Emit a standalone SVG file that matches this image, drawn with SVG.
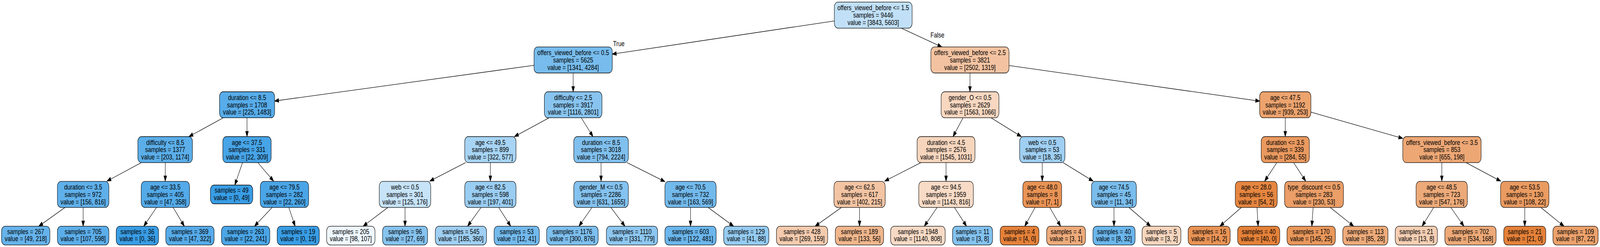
<svg xmlns="http://www.w3.org/2000/svg" width="5276" height="632" viewBox="0 0 5276 632" preserveAspectRatio="none">
<style>
svg:root{width:100vw;height:100vh;display:block}
.nd rect{stroke:#000;stroke-width:1.33}
text{font-family:"Liberation Sans",Arial,Helvetica,sans-serif;font-size:18.67px;fill:#000}
.nd text{text-anchor:middle}
.ed line{stroke:#000;stroke-width:1.33;fill:none;marker-end:url(#ah)}
</style>
<defs>
<marker id="ah" markerUnits="userSpaceOnUse" markerWidth="16" markerHeight="12" refX="0" refY="4.67" orient="auto" overflow="visible"><path d="M0,0 L13.33,4.67 L0,9.33 z" fill="#000" stroke="#000" stroke-width="1.33"/></marker>
</defs>
<rect x="0" y="0" width="5276" height="632" fill="#fff"/>
<g id="edges" class="ed">
<line x1="2751.3" y1="53.56" x2="2032.24" y2="136.92"/>
<line x1="2972.2" y1="72.03" x2="3093.2" y2="115.56"/>
<line x1="1761" y1="167.16" x2="918.8" y2="257"/>
<line x1="1890" y1="186.73" x2="1890" y2="221.44"/>
<line x1="3198.5" y1="186.73" x2="3198.5" y2="221.44"/>
<line x1="3327.25" y1="167.61" x2="4140.45" y2="257.32"/>
<line x1="736.2" y1="301.43" x2="635.37" y2="344.26"/>
<line x1="814.5" y1="301.43" x2="814.5" y2="336.14"/>
<line x1="1810.67" y1="301.43" x2="1708.62" y2="344.31"/>
<line x1="1916.73" y1="301.43" x2="1946.93" y2="339.07"/>
<line x1="3175.71" y1="301.43" x2="3150.16" y2="338.5"/>
<line x1="3267.92" y1="301.43" x2="3355.67" y2="343.69"/>
<line x1="4238.2" y1="301.43" x2="4238.2" y2="336.14"/>
<line x1="4322.7" y1="286.86" x2="4612.59" y2="351.22"/>
<line x1="466.02" y1="416.13" x2="365.05" y2="458.26"/>
<line x1="545" y1="416.13" x2="545" y2="450.14"/>
<line x1="799.67" y1="416.13" x2="779.7" y2="461.31"/>
<line x1="850.32" y1="416.13" x2="892.31" y2="454.4"/>
<line x1="1535.2" y1="416.13" x2="1429.64" y2="458.44"/>
<line x1="1617" y1="416.13" x2="1617" y2="450.14"/>
<line x1="1982" y1="416.13" x2="1982" y2="450.14"/>
<line x1="2067.73" y1="416.13" x2="2180.08" y2="459.82"/>
<line x1="3036.75" y1="416.13" x2="2929.72" y2="458.49"/>
<line x1="3119.6" y1="416.13" x2="3119.6" y2="450.14"/>
<line x1="3436.85" y1="416.13" x2="3436.85" y2="450.14"/>
<line x1="3505.57" y1="416.13" x2="3592.54" y2="457.65"/>
<line x1="4210.39" y1="416.13" x2="4178.85" y2="453.23"/>
<line x1="4265.75" y1="416.13" x2="4296.96" y2="453.2"/>
<line x1="4754.4" y1="416.13" x2="4754.4" y2="450.14"/>
<line x1="4834.16" y1="416.13" x2="4936.25" y2="458.31"/>
<line x1="214.25" y1="530.83" x2="139.61" y2="572.32"/>
<line x1="274.2" y1="530.83" x2="274.2" y2="565.47"/>
<line x1="516.09" y1="530.83" x2="482.83" y2="568.78"/>
<line x1="570.94" y1="530.83" x2="599.71" y2="568.23"/>
<line x1="897.49" y1="530.83" x2="849.46" y2="570.33"/>
<line x1="952.37" y1="530.83" x2="967.77" y2="566.56"/>
<line x1="1278.94" y1="530.83" x2="1209.01" y2="572.03"/>
<line x1="1335.6" y1="530.83" x2="1335.6" y2="565.47"/>
<line x1="1586.24" y1="530.83" x2="1550.99" y2="569"/>
<line x1="1644.47" y1="530.83" x2="1675.54" y2="568.51"/>
<line x1="1952.09" y1="530.83" x2="1917.94" y2="568.88"/>
<line x1="2014.28" y1="530.83" x2="2051.48" y2="569.23"/>
<line x1="2277" y1="530.83" x2="2277" y2="565.47"/>
<line x1="2335.17" y1="530.83" x2="2407.34" y2="572.17"/>
<line x1="2774.46" y1="530.83" x2="2699.68" y2="572.33"/>
<line x1="2834.25" y1="530.83" x2="2834.25" y2="565.47"/>
<line x1="3090.2" y1="530.83" x2="3056.69" y2="568.8"/>
<line x1="3147.26" y1="530.83" x2="3178.57" y2="568.54"/>
<line x1="3413.13" y1="530.83" x2="3386.77" y2="567.93"/>
<line x1="3461.65" y1="530.83" x2="3489.44" y2="568.11"/>
<line x1="3673.35" y1="530.83" x2="3673.35" y2="565.47"/>
<line x1="3722.83" y1="530.83" x2="3783.2" y2="571.37"/>
<line x1="4093.35" y1="530.83" x2="4033.62" y2="571.32"/>
<line x1="4145.03" y1="530.83" x2="4147.67" y2="565.51"/>
<line x1="4330.02" y1="530.83" x2="4326.93" y2="565.52"/>
<line x1="4386.58" y1="530.83" x2="4452.4" y2="571.76"/>
<line x1="4727.51" y1="530.83" x2="4697.67" y2="568.36"/>
<line x1="4784.04" y1="530.83" x2="4818.35" y2="568.9"/>
<line x1="5027.9" y1="530.83" x2="5027.9" y2="565.47"/>
<line x1="5080.88" y1="530.83" x2="5145.87" y2="571.7"/>
<text x="2021.7" y="118.3">True</text>
<text x="3068.3" y="95.7">False</text>
</g>
<g id="n0" class="nd"><rect x="2751.3" y="5.37" width="256.4" height="66.67" rx="12" fill="#c1e0f7"/><text x="2879.5" y="26.5">offers_viewed_before &lt;= 1.5</text><text x="2879.5" y="45.2">samples = 9446</text><text x="2879.5" y="63.9">value = [3843, 5603]</text></g>
<g id="n1" class="nd"><rect x="1761" y="120.07" width="258" height="66.67" rx="12" fill="#77bced"/><text x="1890" y="141.2">offers_viewed_before &lt;= 0.5</text><text x="1890" y="159.9">samples = 5625</text><text x="1890" y="178.6">value = [1341, 4284]</text></g>
<g id="n2" class="nd"><rect x="3069.55" y="120.07" width="257.7" height="66.67" rx="12" fill="#f3c3a1"/><text x="3198.4" y="141.2">offers_viewed_before &lt;= 2.5</text><text x="3198.4" y="159.9">samples = 3821</text><text x="3198.4" y="178.6">value = [2502, 1319]</text></g>
<g id="n3" class="nd"><rect x="723.85" y="234.77" width="181.7" height="66.67" rx="12" fill="#57ace9"/><text x="814.7" y="255.9">duration &lt;= 8.5</text><text x="814.7" y="274.6">samples = 1708</text><text x="814.7" y="293.3">value = [225, 1483]</text></g>
<g id="n4" class="nd"><rect x="1795" y="234.77" width="190" height="66.67" rx="12" fill="#88c4ef"/><text x="1890" y="255.9">difficulty &lt;= 2.5</text><text x="1890" y="274.6">samples = 3917</text><text x="1890" y="293.3">value = [1116, 2801]</text></g>
<g id="n5" class="nd"><rect x="3103.35" y="234.77" width="190.7" height="66.67" rx="12" fill="#f7d7c0"/><text x="3198.7" y="255.9">gender_O &lt;= 0.5</text><text x="3198.7" y="274.6">samples = 2629</text><text x="3198.7" y="293.3">value = [1563, 1066]</text></g>
<g id="n6" class="nd"><rect x="4153.7" y="234.77" width="169" height="66.67" rx="12" fill="#eca36e"/><text x="4238.2" y="255.9">age &lt;= 47.5</text><text x="4238.2" y="274.6">samples = 1192</text><text x="4238.2" y="293.3">value = [939, 253]</text></g>
<g id="n7" class="nd"><rect x="454.6" y="349.47" width="180" height="66.67" rx="12" fill="#5baee9"/><text x="544.6" y="370.6">difficulty &lt;= 8.5</text><text x="544.6" y="389.3">samples = 1377</text><text x="544.6" y="408">value = [203, 1174]</text></g>
<g id="n8" class="nd"><rect x="734.7" y="349.47" width="159.4" height="66.67" rx="12" fill="#47a4e7"/><text x="814.4" y="370.6">age &lt;= 37.5</text><text x="814.4" y="389.3">samples = 331</text><text x="814.4" y="408">value = [22, 309]</text></g>
<g id="n9" class="nd"><rect x="1532.5" y="349.47" width="169" height="66.67" rx="12" fill="#a7d4f4"/><text x="1617" y="370.6">age &lt;= 49.5</text><text x="1617" y="389.3">samples = 899</text><text x="1617" y="408">value = [322, 577]</text></g>
<g id="n10" class="nd"><rect x="1892" y="349.47" width="180" height="66.67" rx="12" fill="#80c0ee"/><text x="1982" y="370.6">duration &lt;= 8.5</text><text x="1982" y="389.3">samples = 3018</text><text x="1982" y="408">value = [794, 2224]</text></g>
<g id="n11" class="nd"><rect x="3024.2" y="349.47" width="190.8" height="66.67" rx="12" fill="#f6d5bd"/><text x="3119.6" y="370.6">duration &lt;= 4.5</text><text x="3119.6" y="389.3">samples = 2576</text><text x="3119.6" y="408">value = [1545, 1031]</text></g>
<g id="n12" class="nd"><rect x="3362.25" y="349.47" width="149.3" height="66.67" rx="12" fill="#9fcff2"/><text x="3436.9" y="370.6">web &lt;= 0.5</text><text x="3436.9" y="389.3">samples = 53</text><text x="3436.9" y="408">value = [18, 35]</text></g>
<g id="n13" class="nd"><rect x="4158.8" y="349.47" width="158.8" height="66.67" rx="12" fill="#ea995f"/><text x="4238.2" y="370.6">duration &lt;= 3.5</text><text x="4238.2" y="389.3">samples = 339</text><text x="4238.2" y="408">value = [284, 55]</text></g>
<g id="n14" class="nd"><rect x="4625.6" y="349.47" width="258.4" height="66.67" rx="12" fill="#eda775"/><text x="4754.8" y="370.6">offers_viewed_before &lt;= 3.5</text><text x="4754.8" y="389.3">samples = 853</text><text x="4754.8" y="408">value = [655, 198]</text></g>
<g id="n15" class="nd"><rect x="189.35" y="464.17" width="169.7" height="66.67" rx="12" fill="#5fb0ea"/><text x="274.2" y="485.3">duration &lt;= 3.5</text><text x="274.2" y="504">samples = 972</text><text x="274.2" y="522.7">value = [156, 816]</text></g>
<g id="n16" class="nd"><rect x="465.6" y="464.17" width="159.4" height="66.67" rx="12" fill="#53aae8"/><text x="545.3" y="485.3">age &lt;= 33.5</text><text x="545.3" y="504">samples = 405</text><text x="545.3" y="522.7">value = [47, 358]</text></g>
<g id="n17" class="nd"><rect x="693.9" y="473.5" width="139.6" height="48" rx="12" fill="#399de5"/><text x="763.7" y="493.5">samples = 49</text><text x="763.7" y="512.1">value = [0, 49]</text></g>
<g id="n18" class="nd"><rect x="858.3" y="464.17" width="159.4" height="66.67" rx="12" fill="#4aa5e7"/><text x="938" y="485.3">age &lt;= 79.5</text><text x="938" y="504">samples = 282</text><text x="938" y="522.7">value = [22, 260]</text></g>
<g id="n19" class="nd"><rect x="1250.65" y="464.17" width="169.7" height="66.67" rx="12" fill="#c6e3f7"/><text x="1335.5" y="485.3">web &lt;= 0.5</text><text x="1335.5" y="504">samples = 301</text><text x="1335.5" y="522.7">value = [125, 176]</text></g>
<g id="n20" class="nd"><rect x="1532.5" y="464.17" width="169" height="66.67" rx="12" fill="#9acdf2"/><text x="1617" y="485.3">age &lt;= 82.5</text><text x="1617" y="504">samples = 598</text><text x="1617" y="522.7">value = [197, 401]</text></g>
<g id="n21" class="nd"><rect x="1892" y="464.17" width="180" height="66.67" rx="12" fill="#84c2ef"/><text x="1982" y="485.3">gender_M &lt;= 0.5</text><text x="1982" y="504">samples = 2286</text><text x="1982" y="522.7">value = [631, 1655]</text></g>
<g id="n22" class="nd"><rect x="2192.5" y="464.17" width="169" height="66.67" rx="12" fill="#72b9ec"/><text x="2277" y="485.3">age &lt;= 70.5</text><text x="2277" y="504">samples = 732</text><text x="2277" y="522.7">value = [163, 569]</text></g>
<g id="n23" class="nd"><rect x="2750" y="464.17" width="169" height="66.67" rx="12" fill="#f3c4a3"/><text x="2834.5" y="485.3">age &lt;= 62.5</text><text x="2834.5" y="504">samples = 617</text><text x="2834.5" y="522.7">value = [402, 215]</text></g>
<g id="n24" class="nd"><rect x="3029.6" y="464.17" width="180" height="66.67" rx="12" fill="#f8dbc6"/><text x="3119.6" y="485.3">age &lt;= 94.5</text><text x="3119.6" y="504">samples = 1959</text><text x="3119.6" y="522.7">value = [1143, 816]</text></g>
<g id="n25" class="nd"><rect x="3372.8" y="464.17" width="128" height="66.67" rx="12" fill="#e99355"/><text x="3436.8" y="485.3">age &lt;= 48.0</text><text x="3436.8" y="504">samples = 8</text><text x="3436.8" y="522.7">value = [7, 1]</text></g>
<g id="n26" class="nd"><rect x="3599.2" y="464.17" width="148" height="66.67" rx="12" fill="#79bded"/><text x="3673.2" y="485.3">age &lt;= 74.5</text><text x="3673.2" y="504">samples = 45</text><text x="3673.2" y="522.7">value = [11, 34]</text></g>
<g id="n27" class="nd"><rect x="4073.3" y="464.17" width="138.4" height="66.67" rx="12" fill="#e68640"/><text x="4142.5" y="485.3">age &lt;= 28.0</text><text x="4142.5" y="504">samples = 56</text><text x="4142.5" y="522.7">value = [54, 2]</text></g>
<g id="n28" class="nd"><rect x="4236" y="464.17" width="194" height="66.67" rx="12" fill="#eb9e67"/><text x="4333" y="485.3">type_discount &lt;= 0.5</text><text x="4333" y="504">samples = 283</text><text x="4333" y="522.7">value = [230, 53]</text></g>
<g id="n29" class="nd"><rect x="4669.5" y="464.17" width="169" height="66.67" rx="12" fill="#edaa79"/><text x="4754" y="485.3">age &lt;= 48.5</text><text x="4754" y="504">samples = 723</text><text x="4754" y="522.7">value = [547, 176]</text></g>
<g id="n30" class="nd"><rect x="4948.2" y="464.17" width="159.4" height="66.67" rx="12" fill="#ea9b61"/><text x="5027.9" y="485.3">age &lt;= 53.5</text><text x="5027.9" y="504">samples = 130</text><text x="5027.9" y="522.7">value = [108, 22]</text></g>
<g id="n31" class="nd"><rect x="5.1" y="578.8" width="159.4" height="48" rx="12" fill="#66b3eb"/><text x="84.8" y="598.8">samples = 267</text><text x="84.8" y="617.4">value = [49, 218]</text></g>
<g id="n32" class="nd"><rect x="189.35" y="578.8" width="169.7" height="48" rx="12" fill="#5caeea"/><text x="274.2" y="598.8">samples = 705</text><text x="274.2" y="617.4">value = [107, 598]</text></g>
<g id="n33" class="nd"><rect x="383.2" y="578.8" width="139.6" height="48" rx="12" fill="#399de5"/><text x="453" y="598.8">samples = 36</text><text x="453" y="617.4">value = [0, 36]</text></g>
<g id="n34" class="nd"><rect x="546.6" y="578.8" width="159.4" height="48" rx="12" fill="#56abe9"/><text x="626.3" y="598.8">samples = 369</text><text x="626.3" y="617.4">value = [47, 322]</text></g>
<g id="n35" class="nd"><rect x="730.3" y="578.8" width="159.4" height="48" rx="12" fill="#4ba6e7"/><text x="810" y="598.8">samples = 263</text><text x="810" y="617.4">value = [22, 241]</text></g>
<g id="n36" class="nd"><rect x="913.9" y="578.8" width="139" height="48" rx="12" fill="#399de5"/><text x="983.4" y="598.8">samples = 19</text><text x="983.4" y="617.4">value = [0, 19]</text></g>
<g id="n37" class="nd"><rect x="1077.1" y="578.8" width="159.4" height="48" rx="12" fill="#eef7fd"/><text x="1156.8" y="598.8">samples = 205</text><text x="1156.8" y="617.4">value = [98, 107]</text></g>
<g id="n38" class="nd"><rect x="1261.45" y="578.8" width="148.5" height="48" rx="12" fill="#86c3ef"/><text x="1335.7" y="598.8">samples = 96</text><text x="1335.7" y="617.4">value = [27, 69]</text></g>
<g id="n39" class="nd"><rect x="1435.3" y="578.8" width="169" height="48" rx="12" fill="#9fcff2"/><text x="1519.8" y="598.8">samples = 545</text><text x="1519.8" y="617.4">value = [185, 360]</text></g>
<g id="n40" class="nd"><rect x="1629.3" y="578.8" width="149" height="48" rx="12" fill="#73baed"/><text x="1703.8" y="598.8">samples = 53</text><text x="1703.8" y="617.4">value = [12, 41]</text></g>
<g id="n41" class="nd"><rect x="1802.5" y="578.8" width="170" height="48" rx="12" fill="#7dbfee"/><text x="1887.5" y="598.8">samples = 1176</text><text x="1887.5" y="617.4">value = [300, 876]</text></g>
<g id="n42" class="nd"><rect x="1999.5" y="578.8" width="169" height="48" rx="12" fill="#8dc7f0"/><text x="2084" y="598.8">samples = 1110</text><text x="2084" y="617.4">value = [331, 779]</text></g>
<g id="n43" class="nd"><rect x="2192.5" y="578.8" width="169" height="48" rx="12" fill="#6bb6ec"/><text x="2277" y="598.8">samples = 603</text><text x="2277" y="617.4">value = [122, 481]</text></g>
<g id="n44" class="nd"><rect x="2386.3" y="578.8" width="149" height="48" rx="12" fill="#95cbf1"/><text x="2460.8" y="598.8">samples = 129</text><text x="2460.8" y="617.4">value = [41, 88]</text></g>
<g id="n45" class="nd"><rect x="2560.3" y="578.8" width="169" height="48" rx="12" fill="#f4cbae"/><text x="2644.8" y="598.8">samples = 428</text><text x="2644.8" y="617.4">value = [269, 159]</text></g>
<g id="n46" class="nd"><rect x="2754.3" y="578.8" width="159.4" height="48" rx="12" fill="#f0b68c"/><text x="2834" y="598.8">samples = 189</text><text x="2834" y="617.4">value = [133, 56]</text></g>
<g id="n47" class="nd"><rect x="2936.7" y="578.8" width="180" height="48" rx="12" fill="#f7dac5"/><text x="3026.7" y="598.8">samples = 1948</text><text x="3026.7" y="617.4">value = [1140, 808]</text></g>
<g id="n48" class="nd"><rect x="3141" y="578.8" width="132" height="48" rx="12" fill="#83c2ef"/><text x="3207" y="598.8">samples = 11</text><text x="3207" y="617.4">value = [3, 8]</text></g>
<g id="n49" class="nd"><rect x="3298" y="578.8" width="128" height="48" rx="12" fill="#e58139"/><text x="3362" y="598.8">samples = 4</text><text x="3362" y="617.4">value = [4, 0]</text></g>
<g id="n50" class="nd"><rect x="3451.3" y="578.8" width="128" height="48" rx="12" fill="#eeab7b"/><text x="3515.3" y="598.8">samples = 4</text><text x="3515.3" y="617.4">value = [3, 1]</text></g>
<g id="n51" class="nd"><rect x="3604" y="578.8" width="139" height="48" rx="12" fill="#6ab6ec"/><text x="3673.5" y="598.8">samples = 40</text><text x="3673.5" y="617.4">value = [8, 32]</text></g>
<g id="n52" class="nd"><rect x="3766" y="578.8" width="128" height="48" rx="12" fill="#f6d5bd"/><text x="3830" y="598.8">samples = 5</text><text x="3830" y="617.4">value = [3, 2]</text></g>
<g id="n53" class="nd"><rect x="3917.9" y="578.8" width="138.6" height="48" rx="12" fill="#e99355"/><text x="3987.2" y="598.8">samples = 16</text><text x="3987.2" y="617.4">value = [14, 2]</text></g>
<g id="n54" class="nd"><rect x="4081" y="578.8" width="139" height="48" rx="12" fill="#e58139"/><text x="4150.5" y="598.8">samples = 40</text><text x="4150.5" y="617.4">value = [40, 0]</text></g>
<g id="n55" class="nd"><rect x="4243.9" y="578.8" width="159.4" height="48" rx="12" fill="#e9975b"/><text x="4323.6" y="598.8">samples = 170</text><text x="4323.6" y="617.4">value = [145, 25]</text></g>
<g id="n56" class="nd"><rect x="4427.8" y="578.8" width="149" height="48" rx="12" fill="#eeab7a"/><text x="4502.3" y="598.8">samples = 113</text><text x="4502.3" y="617.4">value = [85, 28]</text></g>
<g id="n57" class="nd"><rect x="4600.8" y="578.8" width="139" height="48" rx="12" fill="#f5cfb3"/><text x="4670.3" y="598.8">samples = 21</text><text x="4670.3" y="617.4">value = [13, 8]</text></g>
<g id="n58" class="nd"><rect x="4764.4" y="578.8" width="169" height="48" rx="12" fill="#eda977"/><text x="4848.9" y="598.8">samples = 702</text><text x="4848.9" y="617.4">value = [534, 168]</text></g>
<g id="n59" class="nd"><rect x="4958.6" y="578.8" width="138.6" height="48" rx="12" fill="#e58139"/><text x="5027.9" y="598.8">samples = 21</text><text x="5027.9" y="617.4">value = [21, 0]</text></g>
<g id="n60" class="nd"><rect x="5120.8" y="578.8" width="149" height="48" rx="12" fill="#eca16b"/><text x="5195.3" y="598.8">samples = 109</text><text x="5195.3" y="617.4">value = [87, 22]</text></g>
</svg>
